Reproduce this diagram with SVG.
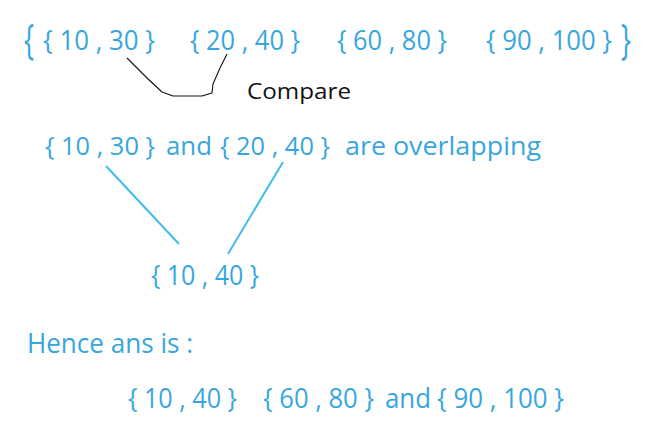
<svg xmlns="http://www.w3.org/2000/svg" width="645" height="433" viewBox="0 0 645 433">
<style>
.t{font-family:"Open Sans","DejaVu Sans",sans-serif;fill:#38a6de}
.r1{font-size:27px}
.r2{font-size:26px}
.r3{font-size:27px}
.big{font-size:42px}
.blk{font-family:"Open Sans","DejaVu Sans",sans-serif;fill:#111;font-size:22px}
.cn{stroke:#3fbbec;stroke-width:2;fill:none}
</style>
<rect width="645" height="433" fill="#fff"/>
<g id="set">
<text class="t big" x="24" y="54" textLength="10" lengthAdjust="spacingAndGlyphs">{</text>
<text class="t r1" x="43" y="50" textLength="112" lengthAdjust="spacingAndGlyphs">{ 10 , 30 }</text>
<text class="t r1" x="190" y="50" textLength="110" lengthAdjust="spacingAndGlyphs">{ 20 , 40 }</text>
<text class="t r1" x="337" y="50" textLength="110" lengthAdjust="spacingAndGlyphs">{ 60 , 80 }</text>
<text class="t r1" x="486" y="50" textLength="126" lengthAdjust="spacingAndGlyphs">{ 90 , 100 }</text>
<text class="t big" x="621" y="54" textLength="10" lengthAdjust="spacingAndGlyphs">}</text>
</g>
<g id="compare">
<text class="blk" x="247" y="99" textLength="104" lengthAdjust="spacingAndGlyphs">Compare</text>
</g>
<g id="overlap">
<text class="t r2" x="45" y="155" textLength="110" lengthAdjust="spacingAndGlyphs">{ 10 , 30 }</text>
<text class="t r2" x="166" y="155" textLength="46" lengthAdjust="spacingAndGlyphs">and</text>
<text class="t r2" x="220" y="155" textLength="110" lengthAdjust="spacingAndGlyphs">{ 20 , 40 }</text>
<text class="t r2" x="345" y="155" textLength="196" lengthAdjust="spacingAndGlyphs">are overlapping</text>
</g>
<g id="merged">
<text class="t r3" x="151" y="285" textLength="108" lengthAdjust="spacingAndGlyphs">{ 10 , 40 }</text>
</g>
<g id="hence">
<text class="t" style="font-size:28px" x="27" y="353" textLength="166" lengthAdjust="spacingAndGlyphs">Hence ans is :</text>
</g>
<g id="answer">
<text class="t r3" x="128" y="408" textLength="109" lengthAdjust="spacingAndGlyphs">{ 10 , 40 }</text>
<text class="t r3" x="263" y="408" textLength="111" lengthAdjust="spacingAndGlyphs">{ 60 , 80 }</text>
<text class="t r3" x="385" y="408" textLength="46" lengthAdjust="spacingAndGlyphs">and</text>
<text class="t r3" x="437" y="408" textLength="127" lengthAdjust="spacingAndGlyphs">{ 90 , 100 }</text>
</g>
<g id="connectors">
<path d="M127,58 L147,78 L162,92 L173,96 L202,96 L212,93 L213,84 L220,68 L227,54" stroke="#111" stroke-width="1.1" fill="none" stroke-linejoin="round"/>
<line class="cn" x1="106" y1="166" x2="179" y2="244"/>
<line class="cn" x1="283" y1="162" x2="228" y2="254"/>
</g>
</svg>
